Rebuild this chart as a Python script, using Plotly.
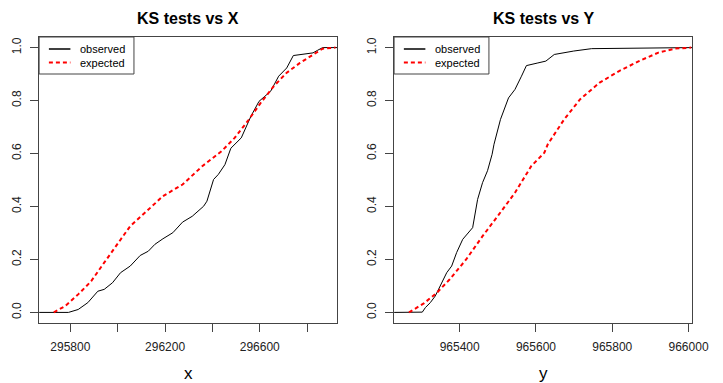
import plotly.graph_objects as go
from plotly.subplots import make_subplots

# ---- data ----
x_obs_x = [295668, 295792, 295833, 295874, 295916, 295943, 295978, 296012, 296053, 296095,
           296129, 296157, 296191, 296233, 296274, 296315, 296363, 296377, 296405, 296425,
           296453, 296478, 296522, 296563, 296597, 296646, 296680, 296714, 296742, 296825,
           296845, 296866, 296928]
x_obs_y = [0.0, 0.0, 0.011, 0.037, 0.08, 0.087, 0.112, 0.15, 0.175, 0.215,
           0.231, 0.257, 0.278, 0.301, 0.341, 0.363, 0.401, 0.42, 0.502, 0.521,
           0.558, 0.62, 0.659, 0.741, 0.797, 0.835, 0.892, 0.923, 0.97, 0.98,
           0.99, 1.0, 1.0]

x_exp_x = [295730, 295778, 295833, 295888, 295943, 295998, 296053, 296122, 296191,
           296274, 296357, 296439, 296494, 296549, 296604, 296659, 296714, 296770, 296825,
           296866, 296920]
x_exp_y = [0.0, 0.024, 0.068, 0.118, 0.188, 0.257, 0.326, 0.382, 0.439,
           0.483, 0.552, 0.609, 0.659, 0.722, 0.791, 0.854, 0.905, 0.942, 0.974,
           0.996, 1.0]

y_obs_x = [965228, 965302, 965310, 965323, 965336, 965349, 965366, 965379, 965392, 965408,
           965434, 965447, 965460, 965473, 965485, 965490, 965507, 965528, 965545, 965562,
           965575, 965605, 965626, 965648, 965699, 965746, 965934, 966010]
y_obs_y = [0.0, 0.001, 0.018, 0.037, 0.062, 0.1, 0.15, 0.175, 0.226, 0.276,
           0.32, 0.427, 0.49, 0.535, 0.597, 0.635, 0.729, 0.81, 0.842, 0.892,
           0.932, 0.942, 0.949, 0.974, 0.987, 0.996, 1.0, 1.0]

y_exp_x = [965267, 965306, 965340, 965374, 965417, 965460, 965503, 965545, 965588,
           965622, 965631, 965674, 965716, 965767, 965819, 965870, 965921, 965964, 966007]
y_exp_y = [0.0, 0.034, 0.074, 0.125, 0.2, 0.288, 0.37, 0.452, 0.553,
           0.603, 0.635, 0.729, 0.805, 0.868, 0.912, 0.949, 0.981, 0.996, 1.0]

x_ticks = [295800, 296000, 296200, 296400, 296600, 296800]
x_ticktext = ["295800", "", "296200", "", "296600", ""]
y_ticks_x = [965400, 965600, 965800, 966000]
y_ticktext_x = ["965400", "965600", "965800", "966000"]
p_ticks = [0, 0.2, 0.4, 0.6, 0.8, 1.0]
p_ticktext = ["0.0", "0.2", "0.4", "0.6", "0.8", "1.0"]

titles = ["KS tests vs X", "KS tests vs Y"]
xlabels = ["x", "y"]
legend_names = ["observed", "expected"]

W, H = 723, 383
FONT = "Liberation Sans, Arial, sans-serif"
BOX = "#444444"

fig = make_subplots(rows=1, cols=2)

panels = [(x_obs_x, x_obs_y, x_exp_x, x_exp_y), (y_obs_x, y_obs_y, y_exp_x, y_exp_y)]
for i, (ox, oy, ex, ey) in enumerate(panels):
    c = i + 1
    fig.add_hline(y=0, line=dict(color="#c8c8c8", width=1, dash="4px,3px"), row=1, col=c)
    fig.add_hline(y=1, line=dict(color="#c8c8c8", width=1, dash="4px,3px"), row=1, col=c)
    fig.add_trace(go.Scatter(x=ox, y=oy, mode="lines", name=legend_names[0],
                             line=dict(color="black", width=1),
                             showlegend=False), row=1, col=c)
    fig.add_trace(go.Scatter(x=ex, y=ey, mode="lines", name=legend_names[1],
                             line=dict(color="#ff0000", width=2, dash="4px,3px"),
                             showlegend=False), row=1, col=c)

axis_common = dict(showgrid=False, zeroline=False, showline=True, mirror=True,
                   linecolor=BOX, linewidth=1, ticks="outside", ticklen=8,
                   tickcolor=BOX, tickwidth=1, ticklabeloverflow="allow",
                   tickfont=dict(family=FONT, size=12, color="#222"))

xt = dict(font=dict(family=FONT, size=17, color="black"), standoff=17)
fig.update_layout(
    xaxis=dict(domain=[40 / W, 345 / W], range=[295668, 296928],
               tickvals=x_ticks, ticktext=x_ticktext, ticklabelstandoff=5,
               title=dict(text=xlabels[0], **xt), **axis_common),
    xaxis2=dict(domain=[403 / W, 708 / W], range=[965228, 966010],
                tickvals=y_ticks_x, ticktext=y_ticktext_x, ticklabelstandoff=5,
                title=dict(text=xlabels[1], **xt), **axis_common),
    yaxis=dict(domain=[60 / H, 346 / H], range=[-0.04, 1.04], ticklabelstandoff=4,
               tickvals=p_ticks, ticktext=p_ticktext, tickangle=-90, **axis_common),
    yaxis2=dict(domain=[60 / H, 346 / H], range=[-0.04, 1.04], ticklabelstandoff=4,
                tickvals=p_ticks, ticktext=p_ticktext, tickangle=-90, **axis_common),
    width=W, height=H, margin=dict(l=0, r=0, t=0, b=0),
    plot_bgcolor="white", paper_bgcolor="white", showlegend=False,
)

# titles
for i, t in enumerate(titles):
    dom = [40 / W, 345 / W] if i == 0 else [403 / W, 708 / W]
    fig.add_annotation(text=f"<b>{t}</b>", x=(dom[0] + dom[1]) / 2, y=1 - 18 / H,
                       xref="paper", yref="paper", showarrow=False,
                       font=dict(family=FONT, size=16, color="black"),
                       xanchor="center", yanchor="middle")

# legends (R-style box in the top-left of each panel)
for i in range(2):
    xr = "x domain" if i == 0 else "x2 domain"
    yr = "y domain" if i == 0 else "y2 domain"
    fig.add_shape(type="rect", xref=xr, yref=yr, x0=0, x1=97 / 305, y0=(323 - 74) / 286, y1=1,
                  line=dict(color=BOX, width=1), fillcolor="white", layer="above")
    for j, (name, col, dash, w) in enumerate([(legend_names[0], "black", "solid", 1.5),
                                               (legend_names[1], "#ff0000", "4px,3px", 2)]):
        yy = (323 - (49 + 13.5 * j)) / 286
        fig.add_shape(type="line", xref=xr, yref=yr, x0=10 / 305, x1=32 / 305, y0=yy, y1=yy,
                      line=dict(color=col, width=w, dash=dash), layer="above")
        fig.add_annotation(text=name, xref=xr, yref=yr, x=41 / 305, y=yy, showarrow=False,
                           xanchor="left", yanchor="middle", borderpad=0,
                           font=dict(family=FONT, size=11, color="black"))

fig.write_html("out.html")
